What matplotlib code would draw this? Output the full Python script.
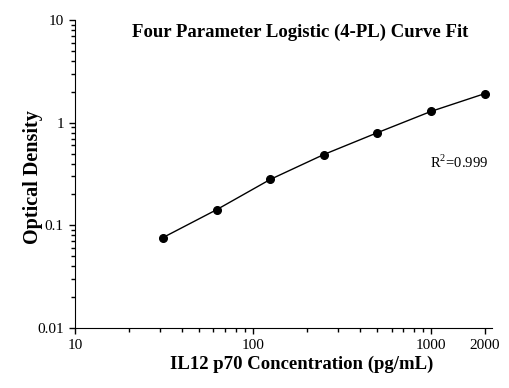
import matplotlib
matplotlib.use('Agg')
import matplotlib.pyplot as plt
from matplotlib.ticker import FixedLocator, NullFormatter, LogLocator

plt.rcParams['font.family'] = 'Liberation Serif'
plt.rcParams['mathtext.fontset'] = 'custom'
plt.rcParams['mathtext.rm'] = 'Liberation Serif'

# standard curve data
conc = [31.25, 62.5, 125, 250, 500, 1000, 2000]
od = [0.076, 0.142, 0.28, 0.49, 0.80, 1.29, 1.92]

x_ticks = [10, 100, 1000, 2000]
x_labels = ['10', '100', '1000', '2000']
y_ticks = [0.01, 0.1, 1, 10]
y_labels = ['0.01', '0.1', '1', '10']

fig = plt.figure(figsize=(5.1, 3.88), dpi=100)
ax = fig.add_axes([0.147, 0.155, 0.818, 0.793])

ax.plot(conc, od, color='black', lw=1.0, marker='o', ms=5.5)

ax.set_xscale('log')
ax.set_yscale('log')
ax.set_xlim(10, 2205)
ax.set_ylim(0.01, 10)

ax.xaxis.set_major_locator(FixedLocator(x_ticks))
ax.set_xticklabels(x_labels)
ax.xaxis.set_minor_locator(LogLocator(base=10, subs=range(2, 10)))
ax.xaxis.set_minor_formatter(NullFormatter())
ax.yaxis.set_major_locator(FixedLocator(y_ticks))
ax.set_yticklabels(y_labels)
ax.yaxis.set_minor_locator(LogLocator(base=10, subs=range(2, 10)))
ax.yaxis.set_minor_formatter(NullFormatter())

ax.spines['top'].set_visible(False)
ax.spines['right'].set_visible(False)
ax.tick_params(which='major', direction='out', length=4.5, width=1, labelsize=11)
ax.tick_params(which='minor', direction='out', length=3, width=1)

ax.set_xlabel('IL12 p70 Concentration (pg/mL)', fontsize=13.5, fontweight='bold')
ax.xaxis.set_label_coords(0.544, -0.092)
ax.set_ylabel('Optical Density', fontsize=14.5, fontweight='bold')
ax.yaxis.set_label_coords(-0.077, 0.49)
ax.set_title('Four Parameter Logistic (4-PL) Curve Fit', fontsize=13.5, fontweight='bold',
             x=0.54, y=0.92)
ax.text(0.85, 0.52, 'R$^2$=0.999', transform=ax.transAxes, fontsize=10.5)

fig.savefig('out.png')
